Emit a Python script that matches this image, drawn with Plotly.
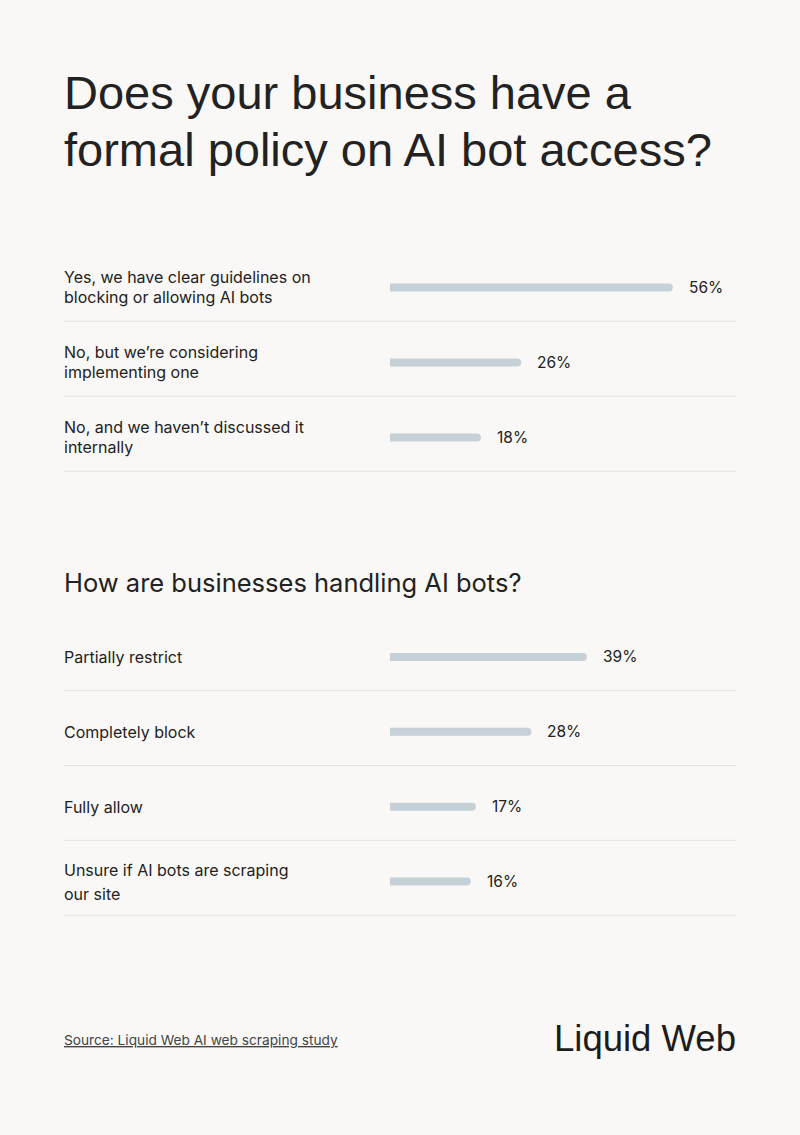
import plotly.graph_objects as go

W, H = 800, 1135

title_lines = ["Does your business have a", "formal policy on AI bot access?"]
subtitle = "How are businesses handling AI bots?"

cats1 = ["Yes, we have clear guidelines on<br>blocking or allowing AI bots",
         "No, but we’re considering<br>implementing one",
         "No, and we haven’t discussed it<br>internally"]
vals1 = [56, 26, 18]

cats2 = ["Partially restrict", "Completely block", "Fully allow",
         "Unsure if AI bots are scraping<br>our site"]
vals2 = [39, 28, 17, 16]

source = "Source: Liquid Web AI web scraping study"
brand = "Liquid Web"

BG = "#f9f8f6"
BAR = "#c6d0d7"
TXT = "#222222"
SEP = "#e4e3e0"
FONT = "Liberation Sans, Arial, sans-serif"
BODY = "Inter, sans-serif"

def py(px):
    return 1 - px / H

x0px, x1px = 390, 736
pxper = 5.05
xmax = (x1px - x0px) / pxper

fig = go.Figure()
fig.add_trace(go.Bar(x=vals1, y=list(range(len(vals1))), orientation="h",
                     marker=dict(color=BAR, line=dict(width=0)), width=0.107,
                     xaxis="x", yaxis="y", hoverinfo="skip"))
fig.add_trace(go.Bar(x=vals2, y=list(range(len(vals2))), orientation="h",
                     marker=dict(color=BAR, line=dict(width=0)), width=0.107,
                     xaxis="x2", yaxis="y2", hoverinfo="skip"))

ann = []
shapes = []

def chart(cats, vals, xr, yr, lh):
    for i, (c, v) in enumerate(zip(cats, vals)):
        lines = c.split("<br>")
        n = len(lines)
        for k, ln in enumerate(lines):
            ann.append(dict(x=64 / W, xref="paper", y=i, yref=yr, text=ln,
                            xanchor="left", yanchor="middle", align="left",
                            xshift=-2, yshift=-(k - (n - 1) / 2) * lh,
                            showarrow=False, font=dict(size=16, color=TXT, family=BODY)))
        ann.append(dict(x=v, xref=xr, y=i, yref=yr, text=f"{v}%", xanchor="left",
                        yanchor="middle", xshift=14, showarrow=False,
                        font=dict(size=15.5, color=TXT, family=BODY)))
        shapes.append(dict(type="line", xref="paper", x0=64 / W, x1=736 / W,
                           yref=yr, y0=i + 0.45, y1=i + 0.45,
                           line=dict(color=SEP, width=1)))

chart(cats1, vals1, "x", "y", 20)
chart(cats2, vals2, "x2", "y2", 24)

ann.append(dict(x=64 / W, xref="paper", y=py(92), yref="paper", text=title_lines[0],
                xanchor="left", yanchor="middle", showarrow=False, xshift=-2,
                font=dict(size=47, color=TXT, family=FONT)))
ann.append(dict(x=64 / W, xref="paper", y=py(149), yref="paper", text=title_lines[1],
                xanchor="left", yanchor="middle", showarrow=False, xshift=-2,
                font=dict(size=47, color=TXT, family=FONT)))
ann.append(dict(x=64 / W, xref="paper", y=py(582), yref="paper", text=subtitle,
                xanchor="left", yanchor="middle", showarrow=False, xshift=-2,
                font=dict(size=25.5, color=TXT, family=BODY)))
ann.append(dict(x=64 / W, xref="paper", y=py(1040), yref="paper", text=f"<u>{source}</u>",
                xanchor="left", yanchor="middle", showarrow=False, xshift=-2,
                font=dict(size=13.7, color="#444444", family=BODY)))
ann.append(dict(x=736 / W, xref="paper", y=py(1038), yref="paper", text=brand,
                xanchor="right", yanchor="middle", showarrow=False, xshift=2,
                font=dict(size=36.5, color="#1c1c1c", family=FONT)))

axx = dict(range=[0, xmax], visible=False, fixedrange=True)
fig.update_layout(
    width=W, height=H, paper_bgcolor=BG, plot_bgcolor=BG,
    margin=dict(l=0, r=0, t=0, b=0), showlegend=False,
    barcornerradius=4,
    xaxis=dict(domain=[x0px / W, x1px / W], anchor="y", **axx),
    yaxis=dict(domain=[py(475), py(250)], range=[2.5, -0.5], visible=False, anchor="x"),
    xaxis2=dict(domain=[x0px / W, x1px / W], anchor="y2", **axx),
    yaxis2=dict(domain=[py(919), py(619.5)], range=[3.5, -0.5], visible=False, anchor="x2"),
    annotations=ann, shapes=shapes,
)
fig.write_html("out.html", config={"displayModeBar": False},
               post_script="document.body.style.margin='0';document.body.style.background='" + BG + "';")
